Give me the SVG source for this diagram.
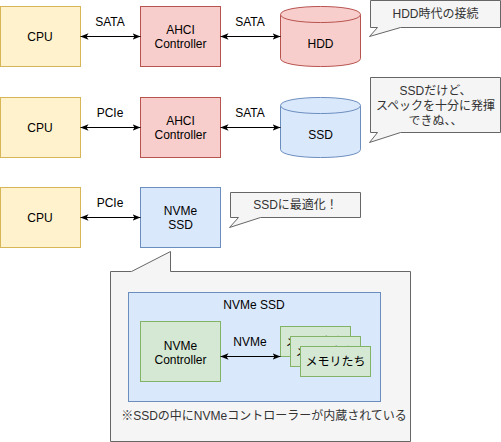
<svg xmlns="http://www.w3.org/2000/svg" width="501" height="442" viewBox="0 0 501 442">
<style>
text{font-family:"Liberation Sans","Noto Sans CJK JP",sans-serif;font-size:12px;text-anchor:middle;fill:#000}
.cpu{fill:#fff2cc;stroke:#d6b656}
.red{fill:#f8cecc;stroke:#b85450}
.blue{fill:#dae8fc;stroke:#6c8ebf}
.green{fill:#d5e8d4;stroke:#82b366}
.call{fill:#f5f5f5;stroke:#666666}
.ct{fill:#333333}
.conn{stroke:#000;stroke-width:1;fill:none;marker-start:url(#ah);marker-end:url(#ah)}
</style>
<defs>
<marker id="ah" viewBox="0 0 10 8" refX="10" refY="4" markerWidth="8" markerHeight="6.4" orient="auto-start-reverse" markerUnits="userSpaceOnUse">
<path d="M0,0 L10,4 L0,8 L2.5,4 Z" fill="#000"/>
</marker>
</defs>
<rect width="501" height="442" fill="#fff"/>

<g id="cpu1"><rect class="cpu" x="0.5" y="6.5" width="80" height="60"/><text x="40" y="40.5">CPU</text></g>
<g id="ahci1"><rect class="red" x="140.5" y="6.5" width="80" height="60"/><text x="180.5" y="33.5">AHCI</text><text x="180.5" y="47.5">Controller</text></g>
<g id="hdd"><path class="red" d="M280.5,14.5 C280.5,3.8 360.5,3.8 360.5,14.5 V58.5 C360.5,69.2 280.5,69.2 280.5,58.5 Z"/><path class="red" fill="none" d="M280.5,14.5 C280.5,25.2 360.5,25.2 360.5,14.5"/><text x="320.5" y="47.5">HDD</text></g>
<g id="callout1"><path class="call" d="M370.5,0.5 H500.5 V27.5 H400.5 L369.5,36.5 L377.5,27.5 H370.5 Z"/><text class="ct" x="435.5" y="18">HDD時代の接続</text></g>

<g id="cpu2"><rect class="cpu" x="0.5" y="97.5" width="80" height="60"/><text x="40" y="131.5">CPU</text></g>
<g id="ahci2"><rect class="red" x="140.5" y="97.5" width="80" height="60"/><text x="180.5" y="124.5">AHCI</text><text x="180.5" y="138.5">Controller</text></g>
<g id="ssd"><path class="blue" d="M280.5,105.5 C280.5,94.8 360.5,94.8 360.5,105.5 V149.5 C360.5,160.2 280.5,160.2 280.5,149.5 Z"/><path class="blue" fill="none" d="M280.5,105.5 C280.5,116.2 360.5,116.2 360.5,105.5"/><text x="320.5" y="138.5">SSD</text></g>
<g id="callout2"><path class="call" d="M370.5,77.5 H500.5 V132.5 H400.5 L369.5,142.5 L377.5,132.5 H370.5 Z"/><text class="ct" x="435.5" y="95">SSDだけど、</text><text class="ct" x="435.5" y="110">スペックを十分に発揮</text><text class="ct" x="435.5" y="125">できぬ、、</text></g>

<g id="cpu3"><rect class="cpu" x="0.5" y="187.5" width="80" height="60"/><text x="40" y="221.5">CPU</text></g>
<g id="nvmessd"><rect class="blue" x="140.5" y="187.5" width="80" height="60"/><text x="180.5" y="214.5">NVMe</text><text x="180.5" y="228.5">SSD</text></g>
<g id="callout3"><path class="call" d="M230.5,192.5 H360.5 V217.5 H260.5 L229.5,227.5 L238.5,217.5 H230.5 Z"/><text class="ct" x="295.5" y="209">SSDに最適化！</text></g>

<g id="bigcallout"><path class="call" d="M110.5,271.5 H131.5 L170.5,251.5 V271.5 H410.5 V441.5 H110.5 Z"/><text class="ct" x="264" y="420">※SSDの中にNVMeコントローラーが内蔵されている</text></g>
<g id="innerssd"><rect class="blue" x="128.5" y="292.5" width="252" height="109"/><text x="254" y="309">NVMe SSD</text></g>
<g id="nvmectrl"><rect class="green" x="140.5" y="321.5" width="80" height="60"/><text x="180.5" y="349.5">NVMe</text><text x="180.5" y="363.5">Controller</text></g>
<g id="mem1"><rect class="green" x="280.5" y="326.5" width="70" height="30"/><text x="315.5" y="345.5">メモリたち</text></g>
<g id="mem2"><rect class="green" x="290.5" y="336.5" width="70" height="30"/><text x="325.5" y="355.5">メモリたち</text></g>
<g id="mem3"><rect class="green" x="300.5" y="346.5" width="70" height="30"/><text x="335.5" y="365.5">メモリたち</text></g>

<g id="connectors">
<line class="conn" x1="80.5" y1="36.5" x2="140.5" y2="36.5"/>
<line class="conn" x1="220.5" y1="36.5" x2="280.5" y2="36.5"/>
<line class="conn" x1="80.5" y1="127.5" x2="140.5" y2="127.5"/>
<line class="conn" x1="220.5" y1="127.5" x2="280.5" y2="127.5"/>
<line class="conn" x1="80.5" y1="217.5" x2="140.5" y2="217.5"/>
<line class="conn" x1="220.5" y1="356.5" x2="280.5" y2="356.5"/>
<text x="110" y="26">SATA</text>
<text x="250" y="26">SATA</text>
<text x="110" y="117">PCIe</text>
<text x="250" y="117">SATA</text>
<text x="110" y="207">PCIe</text>
<text x="250" y="346">NVMe</text>
</g>
</svg>
